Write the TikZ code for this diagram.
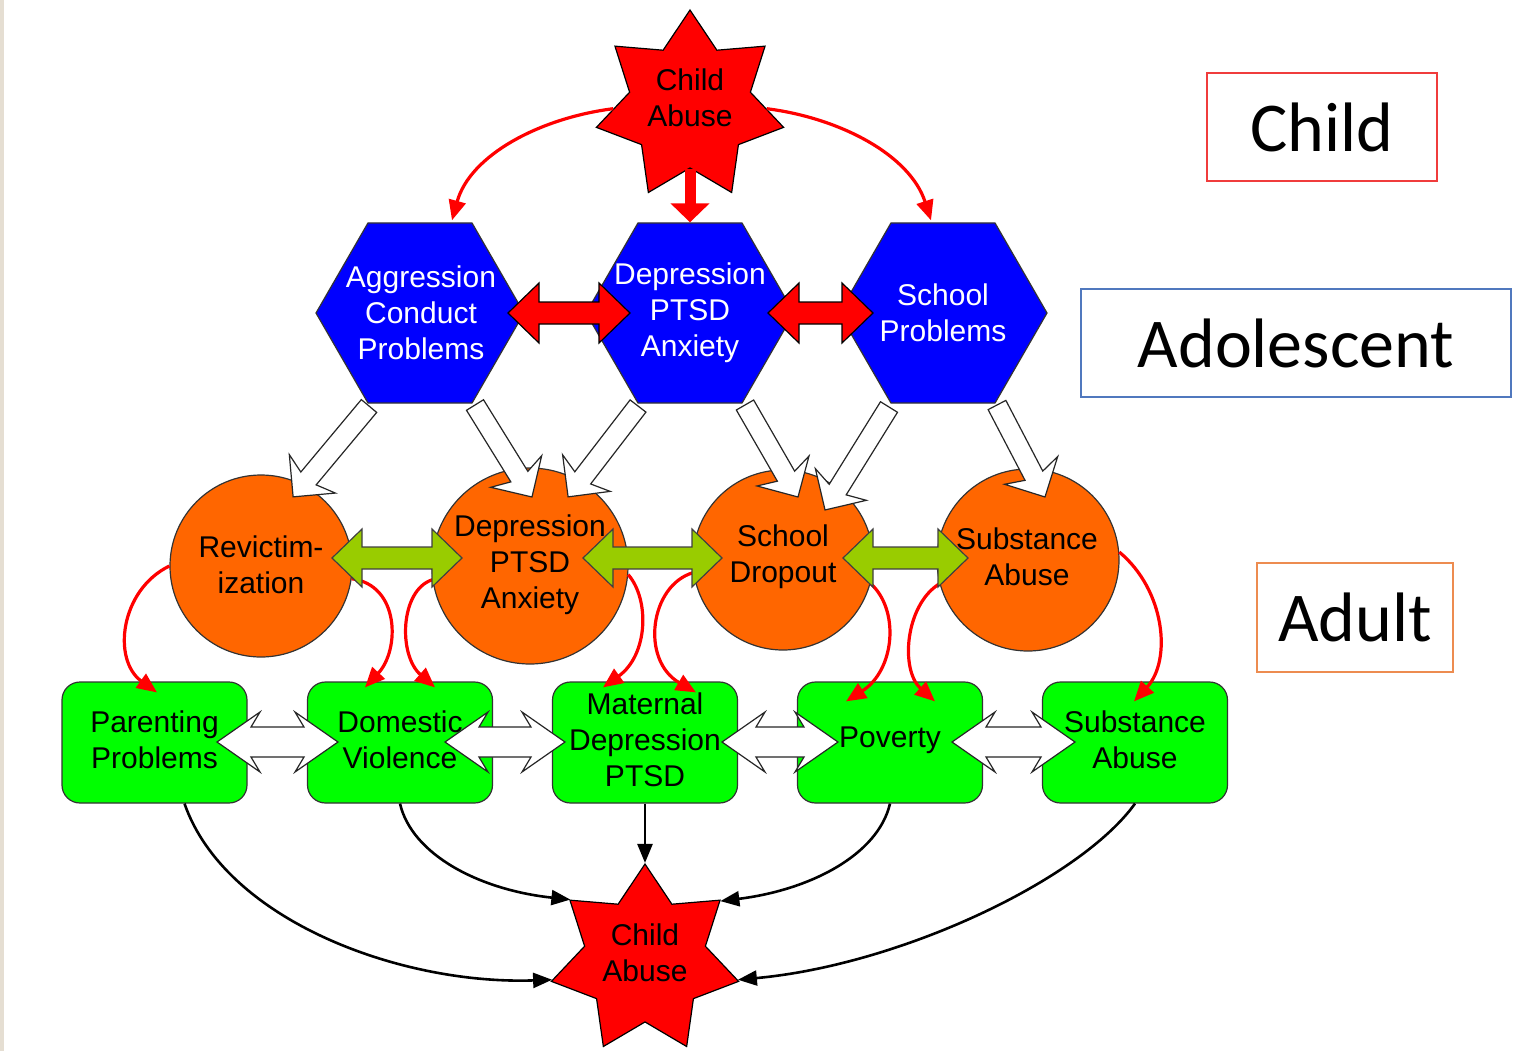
\documentclass[tikz,border=0pt]{standalone}
\usepackage{fontspec}
\setmainfont{Liberation Sans}
\newfontfamily\labfont{Carlito}
\usetikzlibrary{shapes.geometric,arrows.meta,calc}

\definecolor{hexblue}{RGB}{0,0,255}
\definecolor{circorange}{RGB}{255,102,0}
\definecolor{boxgreen}{RGB}{0,255,0}
\definecolor{arrgreen}{RGB}{153,204,0}
\definecolor{labred}{RGB}{240,60,60}
\definecolor{labblue}{RGB}{80,120,190}
\definecolor{laborange}{RGB}{237,140,80}
\definecolor{stripcol}{RGB}{229,222,210}

\tikzset{
 txt/.style={font=\fontsize{15pt}{18pt}\selectfont, align=center, inner sep=0pt},
 starnode/.style={star, star points=7, star point ratio=1.55, minimum size=96pt, inner sep=0pt, draw=black, line width=0.6pt, fill=red},
 hexnode/.style={regular polygon, regular polygon sides=6, minimum size=104pt, inner sep=0pt, draw=black!80, line width=0.6pt, fill=hexblue},
 circnode/.style={circle, inner sep=0pt, draw=black!80, line width=0.6pt, fill=circorange},
 boxnode/.style={rectangle, rounded corners=9pt, minimum width=92.5pt, minimum height=60.5pt, inner sep=0pt, draw=black!80, line width=0.6pt, fill=boxgreen},
 labnode/.style={font=\labfont\fontsize{35pt}{42pt}\selectfont, line width=0.9pt, inner sep=0pt},
 redc/.style={draw=red, line width=1.6pt, -{Triangle[length=10pt,width=8.5pt]}},
 blackc/.style={draw=black, line width=1.3pt, -{Triangle[length=9.5pt,width=7.5pt]}},
 redblock/.style={fill=red, draw=black, line width=0.6pt},
 greenblock/.style={fill=arrgreen, draw=black!75, line width=0.6pt},
 whiteblock/.style={fill=white, draw=black!85, line width=0.6pt},
}

\newcommand\getdir[2]{%
  \path let \p1=(#1), \p2=(#2) in \pgfextra{%
    \pgfmathsetmacro\tmpang{atan2(\y2-\y1,\x2-\x1)}%
    \pgfmathsetmacro\tmplen{veclen(\x2-\x1,\y2-\y1)}%
    \global\let\blkang\tmpang \global\let\blklen\tmplen};}

% style, from, to, shaft half, head half, head length, barb (pt)
\newcommand\singleblock[7]{%
  \getdir{#2}{#3}%
  \begin{scope}[shift={(#2)}, rotate=\blkang]
   \draw[#1] (0pt,-#4pt) -- ({(\blklen-#6+#7)*1pt},-#4pt) -- ({(\blklen-#6)*1pt},-#5pt)
     -- ({\blklen*1pt},0pt) -- ({(\blklen-#6)*1pt},#5pt) -- ({(\blklen-#6+#7)*1pt},#4pt)
     -- (0pt,#4pt) -- cycle;
  \end{scope}}

\newcommand\doubleblock[7]{%
  \getdir{#2}{#3}%
  \begin{scope}[shift={(#2)}, rotate=\blkang]
   \draw[#1] (0pt,0pt) -- (#6pt,-#5pt) -- ({(#6-#7)*1pt},-#4pt)
     -- ({(\blklen-#6+#7)*1pt},-#4pt) -- ({(\blklen-#6)*1pt},-#5pt) -- ({\blklen*1pt},0pt)
     -- ({(\blklen-#6)*1pt},#5pt) -- ({(\blklen-#6+#7)*1pt},#4pt)
     -- ({(#6-#7)*1pt},#4pt) -- (#6pt,#5pt) -- cycle;
  \end{scope}}

\begin{document}
\begin{tikzpicture}[x=0.5pt,y=-0.5pt]
\useasboundingbox (0,0) rectangle (1538,1051);
\fill[stripcol] (0,0) rectangle (4,1051);

% ---- nodes ----
\node[starnode] (ct) at (690,106) {};
\node[txt] (ctt) at (690,98) {Child\\Abuse};

\node[hexnode] (hA) at (420,313) {};
\node[txt,text=white] (hAt) at (421,313) {Aggression\\Conduct\\Problems};
\node[hexnode] (hD) at (690,313) {};
\node[txt,text=white] (hDt) at (690,313) {Depression\\PTSD\\Anxiety};
\node[hexnode] (hS) at (943,313) {};
\node[txt,text=white] (hSt) at (943,313) {School\\Problems};

\node[circnode, minimum size=91pt] (cR) at (261,566) {};
\node[txt] (cRt) at (261,565) {Revictim-\\ization};
\node[circnode, minimum size=98pt] (cD) at (530,566) {};
\node[txt] (cDt) at (530,565) {Depression\\PTSD\\Anxiety};
\node[circnode, minimum size=90pt] (cS) at (783,560) {};
\node[txt] (cSt) at (783,557) {School\\Dropout};
\node[circnode, minimum size=91pt] (cA) at (1028,560) {};
\node[txt] (cAt) at (1027,557) {Substance\\Abuse};

\node[boxnode] (gP) at (154.5,742.5) {};
\node[txt] (gPt) at (154.5,740) {Parenting\\Problems};
\node[boxnode] (gD) at (400,742.5) {};
\node[txt] (gDt) at (400,740) {Domestic\\Violence};
\node[boxnode] (gM) at (645,742.5) {};
\node[txt] (gMt) at (645,740) {Maternal\\Depression\\PTSD};
\node[boxnode] (gV) at (890,742.5) {};
\node[txt] (gVt) at (890,740) {Poverty};
\node[boxnode] (gA) at (1135,742.5) {};
\node[txt] (gAt) at (1135,740) {Substance\\Abuse};

\node[starnode] (cb) at (645,960) {};
\node[txt] (cbt) at (645,953) {Child\\Abuse};

% ---- stage labels ----
\node[labnode, draw=labred, minimum width=115pt, minimum height=54pt] (lC) at (1322,127) {Child};
\node[labnode, draw=labblue, minimum width=215pt, minimum height=54pt] (lAd) at (1296,343) {Adolescent};
\node[labnode, draw=laborange, minimum width=98pt, minimum height=54.5pt] (lAu) at (1355,617.5) {Adult};

% ---- child -> adolescent ----
\draw[red, line width=5.5pt, -{Triangle[length=9.5pt,width=19pt]}] (ct.south) -- (hD.north);
\draw[redc] (ct.182) .. controls (540,118) and (470,155) .. ($(hA.north)+(32,-2)$);
\draw[redc] (ct.-2) .. controls (840,118) and (910,155) .. ($(hS.north)+(-12,-2)$);

\coordinate (rd1l) at (508,313); \coordinate (rd1r) at (630,313);
\coordinate (rd2l) at (768,313); \coordinate (rd2r) at (873,313);
\doubleblock{redblock}{rd1l}{rd1r}{5.5}{15}{15.5}{0}
\doubleblock{redblock}{rd2l}{rd2r}{5.5}{15}{15.5}{0}

% ---- adolescent -> adult (white block arrows) ----
\coordinate (wa1s) at (369,406); \coordinate (wa1e) at (293,497);
\coordinate (wa2s) at (475,405); \coordinate (wa2e) at (532,497);
\coordinate (wa3s) at (638,406); \coordinate (wa3e) at (568,497);
\coordinate (wa4s) at (745,405); \coordinate (wa4e) at (798,497);
\coordinate (wa5s) at (889,407); \coordinate (wa5e) at (825,510);
\coordinate (wa6s) at (997,405); \coordinate (wa6e) at (1045,497);
\singleblock{whiteblock}{wa1s}{wa1e}{5}{15}{15}{3}
\singleblock{whiteblock}{wa2s}{wa2e}{5}{15}{15}{3}
\singleblock{whiteblock}{wa3s}{wa3e}{5}{15}{15}{3}
\singleblock{whiteblock}{wa4s}{wa4e}{5}{15}{15}{3}
\singleblock{whiteblock}{wa5s}{wa5e}{5}{15}{15}{3}
\singleblock{whiteblock}{wa6s}{wa6e}{5}{15}{15}{3}

% ---- adult circles -> boxes (red curves) ----
\draw[redc] (cR.180) .. controls (120,590) and (112,660) .. ($(gP.north)+(2.5,11)$);
\draw[redc] (cR.-8) .. controls (400,585) and (400,650) .. ($(gD.north)+(-35,6)$);
\draw[redc] (cD.188) .. controls (400,590) and (398,655) .. ($(gD.north)+(35,6)$);
\draw[redc] (cD.-5) .. controls (650,600) and (648,655) .. ($(gM.north)+(-42,6)$);
\draw[redc] (cS.188) .. controls (650,585) and (640,660) .. ($(gM.north)+(51,11)$);
\draw[redc] (cS.-15) .. controls (900,610) and (895,670) .. ($(gV.north)+(-44,20)$);
\draw[redc] (cA.195) .. controls (905,605) and (900,670) .. ($(gV.north)+(45,20)$);
\draw[redc] (cA.5) .. controls (1165,590) and (1172,660) .. ($(gA.north)+(-1,20)$);

% ---- green double arrows ----
\coordinate (ga1l) at (332,558); \coordinate (ga1r) at (462,558);
\coordinate (ga2l) at (583,558); \coordinate (ga2r) at (722,558);
\coordinate (ga3l) at (843,558); \coordinate (ga3r) at (968,558);
\doubleblock{greenblock}{ga1l}{ga1r}{5.5}{14.5}{15}{0}
\doubleblock{greenblock}{ga2l}{ga2r}{5.5}{14.5}{15}{0}
\doubleblock{greenblock}{ga3l}{ga3r}{5.5}{14.5}{15}{0}

% ---- white double arrows ----
\coordinate (wd1l) at (217,742); \coordinate (wd1r) at (338,742);
\coordinate (wd2l) at (445,742); \coordinate (wd2r) at (565,742);
\coordinate (wd3l) at (722,742); \coordinate (wd3r) at (838,742);
\coordinate (wd4l) at (952,742); \coordinate (wd4r) at (1075,742);
\doubleblock{whiteblock}{wd1l}{wd1r}{7.5}{15}{21.5}{4.5}
\doubleblock{whiteblock}{wd2l}{wd2r}{7.5}{15}{21.5}{4.5}
\doubleblock{whiteblock}{wd3l}{wd3r}{7.5}{15}{21.5}{4.5}
\doubleblock{whiteblock}{wd4l}{wd4r}{7.5}{15}{21.5}{4.5}

% ---- boxes -> child abuse ----
\draw[blackc] ($(gP.south)+(30,0)$) .. controls (225,920) and (400,985) .. (cb.192.86);
\draw[blackc] (gD.south) .. controls (412,855) and (480,890) .. (cb.141.43);
\draw[blackc] (gM.south) -- (cb.90);
\draw[blackc] (gV.south) .. controls (878,855) and (810,890) .. (cb.38.57);
\draw[blackc] (gA.south) .. controls (1080,880) and (900,965) .. (cb.-12.86);
\end{tikzpicture}
\end{document}
